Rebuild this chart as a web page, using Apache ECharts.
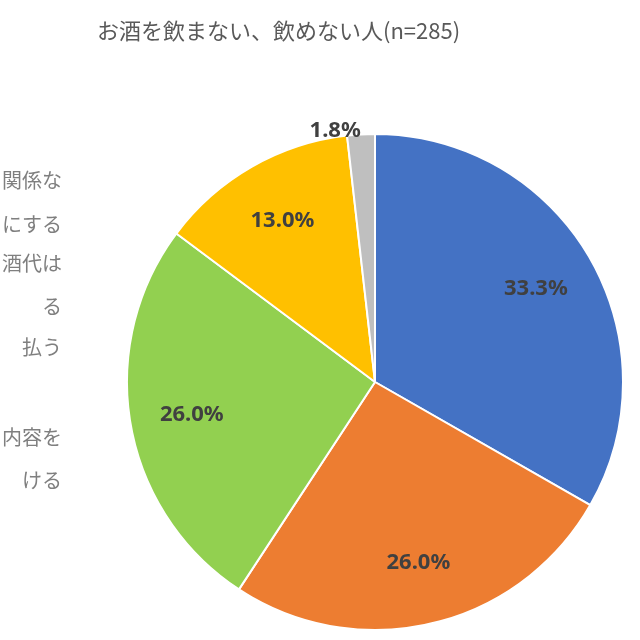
<!DOCTYPE html>
<html><head><meta charset="utf-8">
<script src="https://cdn.jsdelivr.net/npm/echarts@6/dist/echarts.min.js"></script>
<style>html,body{margin:0;padding:0;background:#fff}#c{width:640px;height:640px}</style>
</head><body><div id="c"></div>
<script>
const categories = ['関係な', 'にする', '酒代は', '払う', '内容を'];
const values = [33.3, 26.0, 26.0, 13.0, 1.8];
const colors = ['#4472C4', '#ED7D31', '#92D050', '#FFC000', '#BFBFBF'];
const legendTexts = ['関係な', 'にする', '酒代は', 'る', '払う', '内容を', 'ける'];
const legendY = [183, 227, 266, 309, 350, 440, 483];
const title = 'お酒を飲まない、飲めない人(n=285)';

const chart = echarts.init(document.getElementById('c'));
const data = categories.map((n, i) => ({name: n, value: values[i], itemStyle: {color: colors[i]}}));
const fmt = p => p.value.toFixed(1) + '%';
chart.setOption({
  animation: false,
  graphic: [
    {type: 'text', left: 97, top: 20, style: {text: title, font: '22px "Noto Sans CJK JP"', fill: '#595959'}},
    ...legendTexts.map((t, i) => ({type: 'text', right: 578, top: legendY[i] - 13,
      style: {text: t, font: '20px "Noto Sans CJK JP"', fill: '#7f7f7f'}}))
  ],
  series: [
    {type: 'pie', center: [375, 382], radius: [0, 248], startAngle: 90, clockwise: true,
     itemStyle: {borderColor: '#fff', borderWidth: 2},
     label: {show: false}, labelLine: {show: false},
     data: data.map((d, i) => i === 4 ? Object.assign({}, d, {
       label: {show: true, position: 'outside', formatter: fmt, color: '#404040',
         fontSize: 22, fontWeight: 'bold', fontFamily: 'Noto Sans', distanceToLabelLine: 0},
       labelLine: {show: false, length: 4, length2: 0}}) : d)},
    {type: 'pie', center: [375, 382], radius: [0, 366], startAngle: 90, clockwise: true, silent: true,
     itemStyle: {color: 'transparent'},
     label: {show: true, position: 'inside', formatter: fmt, color: '#404040',
       fontSize: 22, fontWeight: 'bold', fontFamily: 'Noto Sans'},
     data: data.map((d, i) => ({name: d.name, value: d.value, itemStyle: {color: 'transparent'},
       label: {show: i < 4}}))}
  ]
});
</script></body></html>
